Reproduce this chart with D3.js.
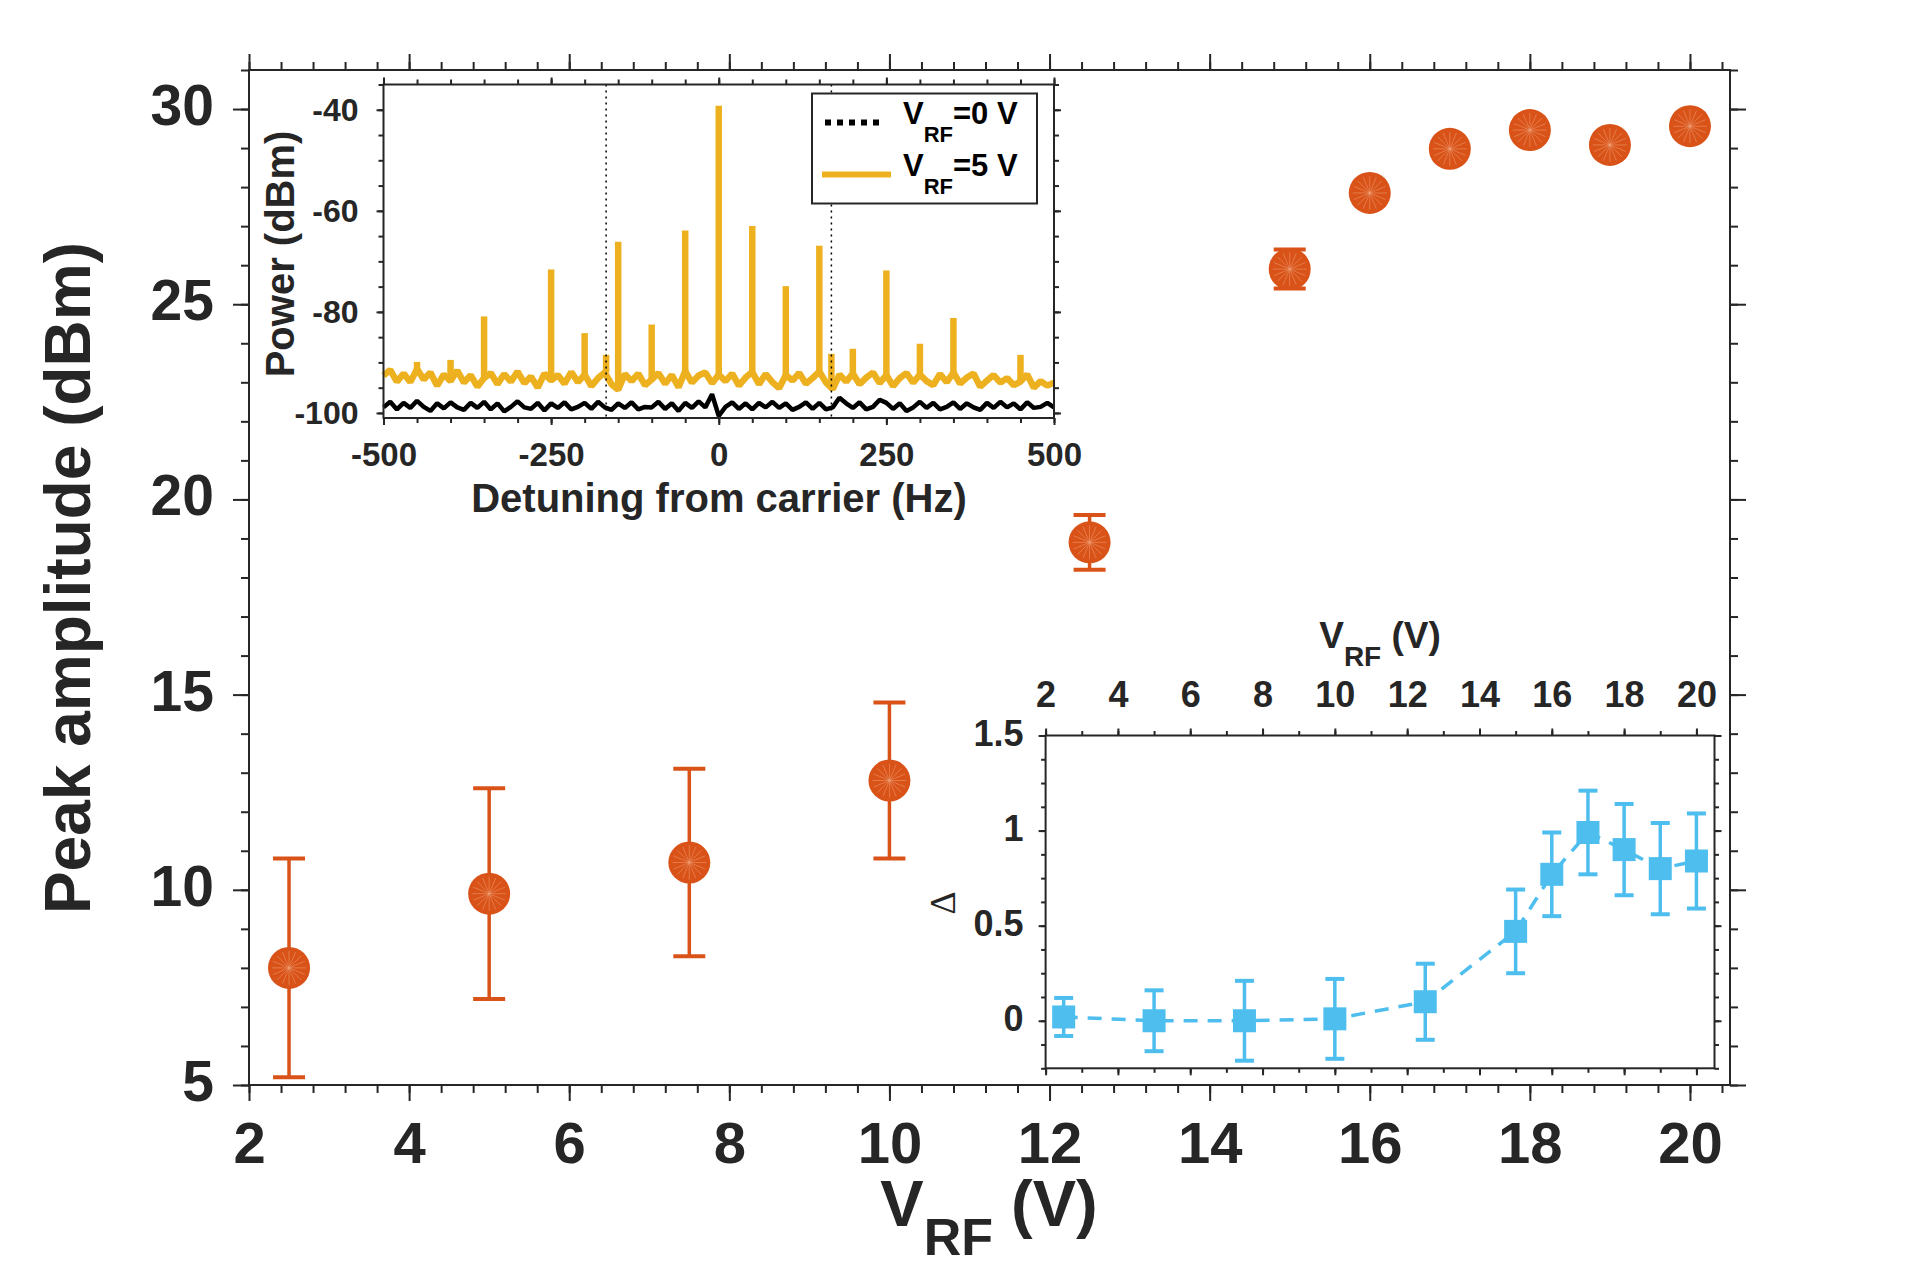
<!DOCTYPE html>
<html>
<head>
<meta charset="utf-8">
<script src="https://cdn.jsdelivr.net/npm/d3@7"></script>
<style>
  body { margin: 0; background: #fff; }
  svg { display: block; }
</style>
</head>
<body>
<svg id="chart" width="1913" height="1269"></svg>
<script>
// main panel: peak amplitude vs V_RF
const vrf = [2.5, 5, 7.5, 10, 12.5, 15, 16, 17, 18, 19, 20];
const peakAmp = [8.0, 9.9, 10.7, 12.8, 18.9, 25.9, 27.85, 28.98, 29.46, 29.08, 29.56];
const peakErr = [2.8, 2.7, 2.4, 2.0, 0.7, 0.5, 0.3, 0.3, 0.3, 0.3, 0.3];
const mainXTicks = [2, 4, 6, 8, 10, 12, 14, 16, 18, 20];
const mainYTicks = [5, 10, 15, 20, 25, 30];

// lower-right inset: delta vs V_RF
const deltaVal = [0.02, 0.0, 0.0, 0.01, 0.10, 0.47, 0.77, 0.99, 0.90, 0.80, 0.84];
const deltaErr = [0.10, 0.16, 0.21, 0.21, 0.20, 0.22, 0.22, 0.22, 0.24, 0.24, 0.25];
const deltaYTicks = [0, 0.5, 1, 1.5];

// upper-left inset: spectrum, floor sampled every 10 Hz from -500 to 500
const detuning = d3.range(-500, 501, 10);
const floor5V = [
  -92.6, -91.5, -93.8, -92.2, -93.9, -91.3, -93.4, -92.0, -94.6, -92.4,
  -93.7, -91.6, -94.0, -92.5, -94.8, -93.1, -92.1, -94.3, -92.3, -93.8,
  -91.8, -94.1, -92.8, -95.0, -92.2, -93.6, -92.5, -94.2, -91.9, -93.9,
  -92.4, -94.7, -93.1, -92.0, -94.3, -95.4, -92.3, -93.7, -92.2, -94.5,
  -93.4, -92.1, -94.2, -92.5, -94.9, -91.7, -94.0, -92.6, -92.0, -94.1,
  -92.4, -93.7, -92.2, -94.6, -93.0, -91.9, -94.3, -92.3, -93.9, -95.1,
  -92.5, -93.6, -92.1, -94.2, -93.1, -91.8, -94.0, -95.3, -92.4, -93.8,
  -92.2, -94.3, -93.0, -92.0, -94.1, -92.5, -94.7, -93.1, -92.1, -94.0,
  -92.4, -93.7, -94.5, -92.3, -93.9, -92.0, -94.2, -93.0, -92.2, -94.8,
  -93.6, -92.5, -94.0, -93.1, -94.5, -93.8, -92.4, -95.0, -93.7, -94.6, -94.0
];
const floor0V = [
  -98.9, -97.8, -99.3, -98.0, -99.0, -97.6, -98.8, -99.6, -98.1, -99.1,
  -97.9, -98.9, -99.4, -98.0, -99.0, -97.8, -99.3, -98.1, -99.7, -98.8,
  -97.7, -98.9, -99.2, -98.0, -99.5, -98.1, -99.0, -97.9, -99.3, -98.8,
  -98.0, -99.2, -97.8, -98.9, -99.4, -98.1, -99.0, -97.9, -99.3, -98.8,
  -98.9, -97.8, -99.2, -98.1, -99.6, -98.0, -99.0, -97.7, -98.9, -96.3,
  -100.6, -98.8, -97.9, -99.2, -98.1, -99.3, -98.0, -98.9, -97.8, -99.0,
  -98.1, -99.4, -98.8, -97.9, -99.2, -98.0, -99.3, -98.9, -97.0, -98.1,
  -99.0, -97.9, -99.3, -98.8, -97.4, -98.0, -99.2, -98.1, -99.6, -98.9,
  -97.8, -99.0, -98.0, -99.3, -98.8, -97.9, -99.2, -98.1, -98.9, -99.4,
  -98.0, -99.0, -97.8, -98.9, -98.1, -99.3, -97.9, -99.0, -98.8, -98.0, -98.9
];
const sidebandHz = [-450, -400, -350, -250, -200, -168, -150, -100, -50, 0, 50, 100, 150, 168, 200, 250, 300, 350, 450];
const sidebandDbm = [-89.9, -89.5, -80.9, -71.6, -84.2, -88.5, -66.1, -82.5, -63.9, -39.2, -63.0, -74.9, -66.9, -88.3, -87.3, -71.8, -86.3, -81.2, -88.5];
const markerHz = [-168, 168];
const specXTicks = [-500, -250, 0, 250, 500];
const specYTicks = [-100, -80, -60, -40];

const FONT = "'Liberation Sans', Arial, Helvetica, sans-serif";
const INK = '#262626';
const ORANGE = '#D95319';
const BLUE = '#4DBEEE';
const GOLD = '#EDB120';

const svg = d3.select('#chart')
  .attr('font-family', FONT)
  .attr('font-weight', 'bold');

const drawAxes = (g, xs, ys, cfg) => {
  const [xl, xr] = xs.range();
  const [yb, yt] = ys.range();
  const sides = [
    { make: d3.axisBottom, s: xs, at: `translate(0,${yb})`, major: cfg.xMajor, minor: cfg.xMinor, label: cfg.bottomLabels, pad: cfg.padX, size: cfg.xSize },
    { make: d3.axisTop, s: xs, at: `translate(0,${yt})`, major: cfg.xMajor, minor: cfg.xMinor, label: cfg.topLabels, pad: cfg.padX, size: cfg.xSize },
    { make: d3.axisLeft, s: ys, at: `translate(${xl},0)`, major: cfg.yMajor, minor: cfg.yMinor, label: true, pad: cfg.padY, size: cfg.ySize },
    { make: d3.axisRight, s: ys, at: `translate(${xr},0)`, major: cfg.yMajor, minor: cfg.yMinor, label: false, pad: 0, size: cfg.ySize }
  ];
  sides.forEach(side => {
    g.append('g')
      .attr('transform', side.at)
      .attr('color', INK)
      .call(side.make(side.s).tickValues(side.minor).tickSize(cfg.minorLen).tickSizeOuter(0).tickFormat(''))
      .call(a => a.select('.domain').remove())
      .selectAll('line').attr('stroke-width', 2);

    const major = g.append('g')
      .attr('transform', side.at)
      .call(side.make(side.s).tickValues(side.major).tickSize(cfg.majorLen).tickSizeOuter(0)
        .tickPadding(side.pad)
        .tickFormat(side.label ? d => String(d) : ''))
      .attr('color', INK)
      .attr('font-family', FONT)
      .attr('font-weight', 'bold')
      .attr('font-size', side.size);
    major.select('.domain').remove();
    major.selectAll('line').attr('stroke-width', 2);
    major.selectAll('text').attr('fill', INK);
    if (side.make === d3.axisLeft && cfg.yDy) major.selectAll('text').attr('dy', cfg.yDy);
  });
  g.append('rect')
    .attr('x', xl).attr('y', yt)
    .attr('width', xr - xl).attr('height', yb - yt)
    .attr('fill', 'none')
    .attr('stroke', INK)
    .attr('stroke-width', 2);
};

// ---------- main panel ----------
const x = d3.scaleLinear().domain([2, 20.5]).range([249, 1730]);
const y = d3.scaleLinear().domain([5, 31]).range([1085, 70]);

const main = svg.append('g');
drawAxes(main, x, y, {
  xMajor: mainXTicks, xMinor: d3.range(2, 20.5, 0.4),
  yMajor: mainYTicks, yMinor: d3.range(5, 31.5, 1),
  majorLen: 16, minorLen: 8,
  bottomLabels: true, topLabels: false,
  padX: 21, padY: 19, xSize: 58, ySize: 57, yDy: '0.27em'
});

main.append('text')
  .attr('transform', 'translate(90,578) rotate(-90)')
  .attr('text-anchor', 'middle')
  .attr('font-size', 64)
  .attr('fill', INK)
  .text('Peak amplitude (dBm)');

const xLabel = main.append('text')
  .attr('x', 989).attr('y', 1226)
  .attr('text-anchor', 'middle')
  .attr('font-size', 65)
  .attr('fill', INK);
xLabel.append('tspan').text('V');
xLabel.append('tspan').attr('font-size', 52).attr('dy', 29).text('RF');
xLabel.append('tspan').attr('dy', -29).text(' (V)');

const pts = main.selectAll('g.pt')
  .data(vrf.map((v, i) => ({ v, a: peakAmp[i], e: peakErr[i] })))
  .enter()
  .append('g')
  .attr('class', 'pt');

pts.append('line')
  .attr('x1', d => x(d.v)).attr('x2', d => x(d.v))
  .attr('y1', d => y(d.a - d.e)).attr('y2', d => y(d.a + d.e))
  .attr('stroke', ORANGE).attr('stroke-width', 3.5);

[-1, 1].forEach(sgn => {
  pts.append('line')
    .attr('x1', d => x(d.v) - 16).attr('x2', d => x(d.v) + 16)
    .attr('y1', d => y(d.a + sgn * d.e)).attr('y2', d => y(d.a + sgn * d.e))
    .attr('stroke', ORANGE).attr('stroke-width', 4);
});

pts.append('circle')
  .attr('cx', d => x(d.v)).attr('cy', d => y(d.a))
  .attr('r', 21)
  .attr('fill', ORANGE);

d3.range(8).forEach(k => {
  const ang = k * Math.PI / 8;
  pts.append('line')
    .attr('x1', d => x(d.v) - 17 * Math.cos(ang)).attr('x2', d => x(d.v) + 17 * Math.cos(ang))
    .attr('y1', d => y(d.a) - 17 * Math.sin(ang)).attr('y2', d => y(d.a) + 17 * Math.sin(ang))
    .attr('stroke', '#F3A77F').attr('stroke-width', 0.8).attr('opacity', 0.6);
});

// ---------- spectrum inset ----------
const sx = d3.scaleLinear().domain([-500, 500]).range([383.5, 1054]);
const sy = d3.scaleLinear().domain([-101, -35]).range([418, 84.5]);

const spec = svg.append('g');
spec.append('rect')
  .attr('x', 383.5).attr('y', 84.5)
  .attr('width', 1054 - 383.5).attr('height', 418 - 84.5)
  .attr('fill', '#fff');

const trace = d3.line()
  .x((d, i) => sx(detuning[i]))
  .y(d => sy(d));

spec.append('path')
  .datum(floor0V)
  .attr('d', trace)
  .attr('fill', 'none')
  .attr('stroke', '#000')
  .attr('stroke-width', 4.5)
  .attr('stroke-linejoin', 'bevel');

spec.append('path')
  .datum(floor5V)
  .attr('d', trace)
  .attr('fill', 'none')
  .attr('stroke', GOLD)
  .attr('stroke-width', 6.5)
  .attr('stroke-linejoin', 'bevel');

spec.selectAll('line.sideband')
  .data(sidebandHz.map((f, i) => ({ f, p: sidebandDbm[i], b: floor5V[Math.round((f + 500) / 10)] })))
  .enter()
  .append('line')
  .attr('class', 'sideband')
  .attr('x1', d => sx(d.f)).attr('x2', d => sx(d.f))
  .attr('y1', d => sy(d.b)).attr('y2', d => sy(d.p))
  .attr('stroke', GOLD)
  .attr('stroke-width', 6.5);

spec.selectAll('line.marker')
  .data(markerHz)
  .enter()
  .append('line')
  .attr('class', 'marker')
  .attr('x1', d => sx(d)).attr('x2', d => sx(d))
  .attr('y1', 84.5).attr('y2', 418)
  .attr('stroke', '#000')
  .attr('stroke-width', 1.5)
  .attr('stroke-dasharray', '2,4');

const legend = spec.append('g');
legend.append('rect')
  .attr('x', 812).attr('y', 93.5)
  .attr('width', 225).attr('height', 110)
  .attr('fill', '#fff')
  .attr('stroke', INK)
  .attr('stroke-width', 2);
legend.append('line')
  .attr('x1', 825).attr('x2', 882).attr('y1', 122.5).attr('y2', 122.5)
  .attr('stroke', '#000').attr('stroke-width', 6).attr('stroke-dasharray', '6,6');
legend.append('line')
  .attr('x1', 822).attr('x2', 891).attr('y1', 174.5).attr('y2', 174.5)
  .attr('stroke', GOLD).attr('stroke-width', 6);
[['=0 V', 123.5], ['=5 V', 175.5]].forEach(([txt, by]) => {
  const t = legend.append('text')
    .attr('x', 903).attr('y', by)
    .attr('font-size', 31)
    .attr('fill', '#000');
  t.append('tspan').text('V');
  t.append('tspan').attr('font-size', 22).attr('dy', 18).text('RF');
  t.append('tspan').attr('dy', -18).text(txt);
});

drawAxes(spec, sx, sy, {
  xMajor: specXTicks, xMinor: d3.range(-500, 501, 50),
  yMajor: specYTicks, yMinor: d3.range(-100, -34, 5),
  majorLen: 7, minorLen: 5,
  bottomLabels: true, topLabels: false,
  padX: 18, padY: 18, xSize: 33, ySize: 32
});

spec.append('text')
  .attr('transform', 'translate(294,254) rotate(-90)')
  .attr('text-anchor', 'middle')
  .attr('font-size', 40)
  .attr('fill', INK)
  .text('Power (dBm)');

spec.append('text')
  .attr('x', 719).attr('y', 512)
  .attr('text-anchor', 'middle')
  .attr('font-size', 40)
  .attr('fill', INK)
  .text('Detuning from carrier (Hz)');

// ---------- delta inset ----------
const dx = d3.scaleLinear().domain([2, 20.5]).range([1045.6, 1714.5]);
const dy = d3.scaleLinear().domain([-0.25, 1.5]).range([1068.3, 735.5]);

const dlt = svg.append('g');
dlt.append('rect')
  .attr('x', 1045.6).attr('y', 735.5)
  .attr('width', 1714.5 - 1045.6).attr('height', 1068.3 - 735.5)
  .attr('fill', '#fff');

dlt.append('path')
  .datum(vrf.map((v, i) => [v, deltaVal[i]]))
  .attr('d', d3.line().x(d => dx(d[0])).y(d => dy(d[1])))
  .attr('fill', 'none')
  .attr('stroke', BLUE)
  .attr('stroke-width', 3.5)
  .attr('stroke-dasharray', '14,10');

const dpts = dlt.selectAll('g.dp')
  .data(vrf.map((v, i) => ({ v, d: deltaVal[i], e: deltaErr[i] })))
  .enter()
  .append('g')
  .attr('class', 'dp');

dpts.append('line')
  .attr('x1', d => dx(d.v)).attr('x2', d => dx(d.v))
  .attr('y1', d => dy(d.d - d.e)).attr('y2', d => dy(d.d + d.e))
  .attr('stroke', BLUE).attr('stroke-width', 3.5);

[-1, 1].forEach(sgn => {
  dpts.append('line')
    .attr('x1', d => dx(d.v) - 9.5).attr('x2', d => dx(d.v) + 9.5)
    .attr('y1', d => dy(d.d + sgn * d.e)).attr('y2', d => dy(d.d + sgn * d.e))
    .attr('stroke', BLUE).attr('stroke-width', 4);
});

dpts.append('rect')
  .attr('x', d => dx(d.v) - 11.5).attr('y', d => dy(d.d) - 11.5)
  .attr('width', 23).attr('height', 23)
  .attr('fill', BLUE);

drawAxes(dlt, dx, dy, {
  xMajor: mainXTicks, xMinor: d3.range(2, 20.5, 1),
  yMajor: deltaYTicks, yMinor: d3.range(-0.25, 1.51, 0.125),
  majorLen: 7, minorLen: 4.5,
  bottomLabels: false, topLabels: true,
  padX: 22, padY: 15, xSize: 36, ySize: 36, yDy: '0.28em'
});

const topLabel = dlt.append('text')
  .attr('x', 1380).attr('y', 648)
  .attr('text-anchor', 'middle')
  .attr('font-size', 37)
  .attr('fill', INK);
topLabel.append('tspan').text('V');
topLabel.append('tspan').attr('font-size', 28).attr('dy', 18).text('RF');
topLabel.append('tspan').attr('dy', -18).text(' (V)');

dlt.append('text')
  .attr('transform', 'translate(955,903) rotate(-90)')
  .attr('text-anchor', 'middle')
  .attr('font-family', "'Liberation Serif', 'DejaVu Serif', serif")
  .attr('font-weight', 'normal')
  .attr('font-size', 36)
  .attr('fill', INK)
  .text('Δ');
</script>
</body>
</html>
